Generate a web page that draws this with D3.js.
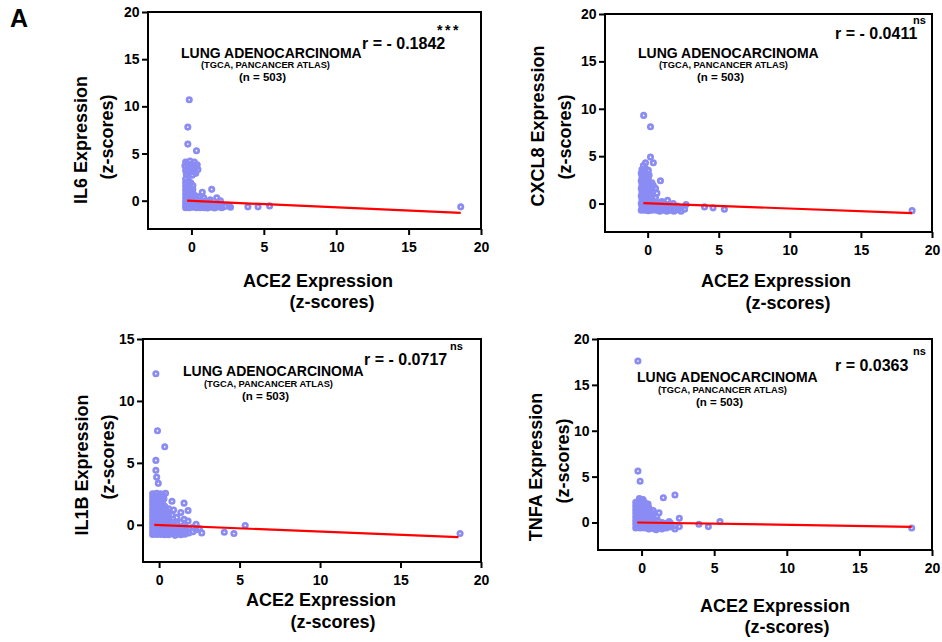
<!DOCTYPE html>
<html>
<head>
<meta charset="utf-8">
<script src="https://cdn.jsdelivr.net/npm/d3@7"></script>
<style>
body { margin: 0; background: #fff; }
svg { font-family: "Liberation Sans", Arial, sans-serif; font-weight: bold; }
</style>
</head>
<body>
<svg id="chart" width="942" height="642"></svg>
<script>
// ---- values ----
const genes = ["IL6", "CXCL8", "IL1B", "TNFA"];
const rLabels = ["r = - 0.1842", "r = - 0.0411", "r = - 0.0717", "r = 0.0363"];
const sigLabels = ["***", "ns", "ns", "ns"];
const xTicks = [0, 5, 10, 15, 20];
const yTicks20 = [0, 5, 10, 15, 20];
const yTicks15 = [0, 5, 10, 15];

// regression line, start and end on the ACE2 axis
const fitX = [-0.3, 18.6];
const il6Fit = [0, -1.3];
const cxcl8Fit = [0.05, -1.0];
const il1bFit = [0, -1.0];
const tnfaFit = [0, -0.47];

// [ACE2 z-score, gene z-score]
const il6Points = [
  [-0.15,10.7],[-0.25,7.8],[-0.25,6.0],[0.35,5.3],[0.75,0.9],[1.4,1.2],[0.85,0.3],[1.75,0.3],
  [3.9,-0.65],[4.6,-0.65],[5.4,-0.55],[18.6,-0.65],
  [-0.4,4.1],[-0.1,4.2],[0.2,4.1],[0.4,3.8],[-0.45,3.7],[-0.15,3.6],[0.15,3.5],[0.45,3.3],
  [-0.4,3.2],[-0.1,3.0],[0.2,3.1],[-0.35,2.8],[0.05,2.7],[0.3,2.9],
  [-0.28,3.9],[0.05,3.85],[-0.28,3.4],[0.02,3.3],[0.3,3.55],[-0.22,3.0],
  [-0.4,2.3],[-0.2,2.1],[-0.4,1.9],[-0.15,1.7],[-0.4,1.5],[-0.1,1.4],[0.1,1.6],[-0.4,1.1],
  [-0.15,1.0],[0.1,1.2],[-0.4,0.7],[-0.15,0.7],[0.1,0.8],[0.3,0.5],[-0.4,0.3],[-0.15,0.35],
  [0.1,0.3],[-0.4,-0.1],[-0.15,0.0],[0.1,-0.05],[-0.4,-0.45],[-0.15,-0.4],[0.1,-0.4],
  [-0.4,-0.75],[-0.15,-0.75],[0.1,-0.7],
  [-0.28,-0.58],[-0.03,-0.58],[0.22,-0.58],[-0.28,-0.25],[-0.03,-0.25],[0.22,-0.25],[-0.28,0.15],
  [-0.03,0.15],[0.22,0.1],[-0.28,0.5],[-0.03,0.5],[0.2,0.55],[-0.28,0.9],[-0.03,0.9],[-0.28,1.25],
  [-0.03,1.25],[-0.28,1.6],[-0.3,1.95],[-0.05,1.9],
  [0.35,0.2],[0.55,0.4],[0.5,-0.1],[0.75,0.0],[0.35,-0.45],[0.6,-0.5],[0.85,-0.4],[0.35,-0.75],
  [0.6,-0.75],[0.85,-0.75],[1.1,-0.1],[1.1,-0.55],[1.1,-0.78],[1.35,-0.3],[1.35,-0.7],[1.6,-0.5],
  [1.6,-0.78],[1.85,-0.25],[1.85,-0.65],[2.1,-0.45],[2.1,-0.75],[2.35,-0.6],[2.6,-0.5],[2.7,-0.7],
  [1.3,0.1],[2.0,0.0],
  [0.48,-0.6],[0.72,-0.6],[0.98,-0.6],[1.22,-0.5],[1.48,-0.6],[0.72,-0.25],[0.98,-0.3],[1.22,-0.15],
  [1.72,-0.6],[1.98,-0.6],[0.48,0.1]
];

const cxcl8Points = [
  [-0.28,9.3],[0.2,8.1],[0.2,4.9],[-0.15,4.3],[0.4,4.3],[0.9,2.4],[0.65,1.1],[1.4,0.35],
  [2.7,-0.1],[4.0,-0.35],[4.6,-0.45],[5.4,-0.6],[18.6,-0.75],
  [-0.3,4.0],[-0.4,3.6],[-0.15,3.7],[-0.45,3.2],[-0.2,3.3],[0.05,3.5],[-0.4,2.8],[-0.15,2.9],
  [0.1,3.0],[-0.45,2.4],[-0.2,2.5],[0.05,2.5],[0.3,2.2],[-0.4,2.0],[-0.15,2.0],[0.1,2.0],
  [0.4,1.9],[-0.45,1.6],[-0.2,1.6],[0.05,1.6],[0.3,1.5],[0.55,1.6],[-0.4,1.2],[-0.15,1.2],
  [0.1,1.2],[0.35,1.2],[-0.45,0.8],[-0.2,0.8],[0.05,0.8],[0.3,0.8],[0.55,0.6],[-0.4,0.4],
  [-0.15,0.4],[0.1,0.4],[0.35,0.35],[-0.45,0.0],[-0.2,0.0],[0.05,0.0],[0.3,0.0],[0.6,0.1],
  [-0.4,-0.35],[-0.15,-0.35],[0.1,-0.4],[0.35,-0.35],[-0.45,-0.7],[-0.2,-0.7],[0.05,-0.75],[0.3,-0.7],
  [-0.32,-0.52],[-0.07,-0.52],[0.2,-0.52],[-0.32,-0.17],[-0.07,-0.17],[0.2,-0.17],[-0.32,0.2],
  [-0.07,0.2],[0.2,0.2],[-0.32,0.6],[-0.07,0.6],[0.2,0.6],[-0.32,1.0],[-0.07,1.0],[0.2,1.0],
  [-0.32,1.4],[-0.07,1.4],[0.2,1.35],[-0.32,1.8],[-0.07,1.8],[0.22,1.75],[-0.32,2.2],[-0.07,2.2],
  [-0.32,2.6],[-0.05,2.7],[-0.3,3.05],[-0.05,3.1],[-0.28,3.45],
  [0.6,-0.3],[0.6,-0.7],[0.85,-0.1],[0.85,-0.5],[0.85,-0.8],[1.1,-0.3],[1.1,-0.7],[1.35,-0.1],
  [1.35,-0.5],[1.35,-0.8],[1.6,-0.3],[1.6,-0.7],[1.85,-0.45],[1.85,-0.8],[2.1,-0.25],[2.1,-0.65],
  [2.35,-0.5],[2.35,-0.8],[2.6,-0.6],[1.0,0.2],[1.8,0.0],
  [0.47,-0.5],[0.72,-0.5],[0.98,-0.55],[1.22,-0.5],[1.48,-0.6],[0.72,-0.15],[0.98,0.0],[1.22,-0.15],
  [1.72,-0.55],[1.98,-0.45]
];

const il1bPoints = [
  [-0.2,12.2],[-0.1,7.6],[0.35,6.3],[-0.2,5.2],[-0.2,4.4],[-0.15,3.85],[-0.05,3.35],[0.8,1.9],
  [1.55,1.75],[1.8,1.15],[0.8,0.8],[1.55,0.45],[2.3,0.05],[2.65,-0.65],[4.05,-0.6],[4.65,-0.7],
  [5.35,-0.05],[18.7,-0.7],
  [-0.4,2.5],[-0.15,2.55],[0.1,2.5],[0.4,2.55],[-0.4,2.2],[-0.15,2.2],[0.1,2.25],[0.3,2.1],
  [-0.4,1.9],[-0.15,1.9],[0.1,1.9],[-0.4,1.6],[-0.15,1.6],[0.1,1.6],[0.35,1.5],[-0.4,1.3],
  [-0.15,1.3],[0.1,1.3],[0.35,1.2],[0.6,1.3],[-0.4,1.0],[-0.15,1.0],[0.1,1.0],[0.35,0.9],
  [0.6,1.0],[-0.4,0.7],[-0.15,0.7],[0.1,0.7],[0.35,0.6],[0.6,0.6],[-0.4,0.4],[-0.15,0.4],
  [0.1,0.4],[0.35,0.3],[0.6,0.3],[-0.4,0.1],[-0.15,0.1],[0.1,0.1],[0.35,0.0],[0.6,0.0],
  [-0.4,-0.2],[-0.15,-0.2],[0.1,-0.2],[0.35,-0.3],[0.6,-0.3],[-0.4,-0.5],[-0.15,-0.5],[0.1,-0.5],
  [0.35,-0.55],[0.6,-0.6],[-0.4,-0.78],[-0.15,-0.78],[0.1,-0.78],[0.35,-0.8],[0.6,-0.8],
  [-0.28,-0.64],[-0.02,-0.64],[0.22,-0.66],[0.48,-0.68],[-0.28,-0.35],[-0.02,-0.35],[0.22,-0.38],
  [0.48,-0.42],[-0.28,-0.05],[-0.02,-0.05],[0.22,-0.08],[0.48,-0.12],[-0.28,0.25],[-0.02,0.25],
  [0.22,0.22],[0.48,0.18],[-0.28,0.55],[-0.02,0.55],[0.22,0.52],[0.48,0.46],[-0.28,0.85],
  [-0.02,0.85],[0.22,0.82],[0.48,0.78],[-0.28,1.15],[-0.02,1.15],[0.22,1.12],[0.48,1.1],
  [-0.28,1.45],[-0.02,1.45],[0.22,1.42],[-0.28,1.75],[-0.02,1.75],[0.22,1.72],[-0.28,2.05],
  [-0.02,2.05],[0.22,2.02],[-0.28,2.35],[-0.02,2.35],[0.25,2.38],
  [0.85,0.2],[0.85,-0.1],[0.85,-0.4],[0.85,-0.7],[1.1,0.6],[1.1,0.1],[1.1,-0.3],[1.1,-0.65],
  [1.35,1.0],[1.35,0.2],[1.35,-0.2],[1.35,-0.55],[1.35,-0.8],[1.6,-0.1],[1.6,-0.45],[1.6,-0.75],
  [1.85,-0.3],[1.85,-0.65],[2.1,-0.2],[2.1,-0.55],[2.3,-0.4],[2.5,-0.3],[0.9,1.2],[1.0,-0.85],
  [1.8,0.3],
  [0.72,-0.55],[0.98,-0.5],[1.22,-0.45],[0.72,-0.25],[0.98,-0.1],[1.22,-0.7],[1.48,-0.6],[1.48,-0.3],
  [0.72,0.05],[1.72,-0.5]
];

const tnfaPoints = [
  [-0.25,17.6],[-0.25,5.6],[-0.1,4.5],[1.5,2.7],[2.3,3.0],[1.2,1.05],[2.6,0.45],[2.6,-0.45],
  [3.95,-0.2],[4.6,-0.45],[5.4,0.1],[18.6,-0.6],
  [-0.15,2.6],[0.1,2.5],[-0.4,2.2],[-0.1,2.2],[0.2,2.2],[0.45,2.0],[-0.4,1.8],[-0.1,1.8],
  [0.2,1.8],[0.5,1.6],[-0.4,1.4],[-0.1,1.4],[0.2,1.4],[0.5,1.2],[0.8,1.3],[-0.4,1.0],
  [-0.1,1.0],[0.2,1.0],[0.5,0.8],[0.8,0.9],[-0.4,0.6],[-0.1,0.6],[0.2,0.6],[0.5,0.4],
  [0.8,0.5],[1.05,0.6],[-0.4,0.2],[-0.1,0.2],[0.2,0.2],[0.5,0.0],[0.8,0.1],[1.1,0.2],
  [-0.4,-0.2],[-0.1,-0.2],[0.2,-0.2],[0.5,-0.35],[0.8,-0.3],[-0.4,-0.6],[-0.1,-0.6],[0.2,-0.6],
  [0.5,-0.7],[0.8,-0.65],[1.1,-0.2],[1.1,-0.55],[1.4,0.0],[1.4,-0.4],[1.4,-0.7],[1.7,-0.2],
  [1.7,-0.6],[2.0,-0.1],[2.0,-0.5],[2.3,-0.35],[2.3,-0.7],[1.9,0.1],[1.0,-0.8],
  [-0.25,-0.4],[0.05,-0.4],[0.35,-0.45],[0.65,-0.5],[-0.25,0.0],[0.05,0.0],[0.35,-0.05],[0.65,-0.1],
  [-0.25,0.4],[0.05,0.4],[0.35,0.35],[0.65,0.3],[-0.25,0.8],[0.05,0.8],[0.35,0.75],[0.65,0.7],
  [-0.25,1.2],[0.05,1.2],[0.35,1.15],[0.65,1.05],[-0.25,1.6],[0.05,1.6],[0.35,1.55],[-0.25,2.0],
  [0.05,2.0],[0.3,1.95],[-0.05,2.4],
  [0.95,-0.45],[1.25,-0.55],[1.25,-0.2],[1.55,-0.45],[1.85,-0.4],[0.95,-0.05],[1.55,-0.1]
];

// ---- layout (pixel positions of each panel) ----
const panels = [
  { gene: genes[0], points: il6Points, fit: il6Fit, r: rLabels[0], sig: sigLabels[0],
    xDomain: [-3, 20], yDomain: [-3, 20], yTicks: yTicks20,
    box: {left: 148, top: 12, right: 481, bottom: 229},
    yt1: [81, 140], yt2: [108, 137], xt1: [318, 286.5], xt2: [332, 308],
    lung: [181, 57.7], tgca: [201, 67.5], n: [239, 80.5], rPos: [362, 49], sigPos: [437, 34.5], sigSize: 14, sigSpace: 2.5 },
  { gene: genes[1], points: cxcl8Points, fit: cxcl8Fit, r: rLabels[1], sig: sigLabels[1],
    xDomain: [-3, 20], yDomain: [-3, 20], yTicks: yTicks20,
    box: {left: 605, top: 14, right: 932, bottom: 232},
    yt1: [537.5, 126], yt2: [565.5, 137], xt1: [776, 286.5], xt2: [788, 309],
    lung: [638, 57.7], tgca: [659, 67.5], n: [697, 80.5], rPos: [835, 39.3], sigPos: [913, 24], sigSize: 11, sigSpace: 0 },
  { gene: genes[2], points: il1bPoints, fit: il1bFit, r: rLabels[2], sig: sigLabels[2],
    xDomain: [-1, 20], yDomain: [-3, 15], yTicks: yTicks15,
    box: {left: 143, top: 339, right: 481, bottom: 562},
    yt1: [82, 465], yt2: [109, 457], xt1: [321, 605.5], xt2: [333, 628],
    lung: [183, 376], tgca: [204, 386.5], n: [242, 400], rPos: [364, 365], sigPos: [450, 350], sigSize: 11, sigSpace: 0 },
  { gene: genes[3], points: tnfaPoints, fit: tnfaFit, r: rLabels[3], sig: sigLabels[3],
    xDomain: [-3, 20], yDomain: [-3, 20], yTicks: yTicks20,
    box: {left: 598, top: 339, right: 932, bottom: 550},
    yt1: [535.5, 467], yt2: [564, 461], xt1: [775, 611.5], xt2: [787, 633],
    lung: [637, 382], tgca: [658, 392.5], n: [696, 406], rPos: [835, 371], sigPos: [913, 355], sigSize: 11, sigSpace: 0 }
];

const svg = d3.select('#chart');

svg.append('text')
    .attr('x', 10)
    .attr('y', 27)
    .attr('font-size', 25)
    .text('A');

panels.forEach(drawPanel);

function drawPanel(p) {
    const xScale = d3.scaleLinear()
                .domain(p.xDomain)
                .range([p.box.left, p.box.right]);
    const yScale = d3.scaleLinear()
                .domain(p.yDomain)
                .range([p.box.bottom, p.box.top]);

    const g = svg.append('g');

    g.selectAll('circle')
        .data(p.points)
        .enter()
        .append('circle')
        .attr('cx', d => xScale(d[0]))
        .attr('cy', d => yScale(d[1]))
        .attr('r', 2.2)
        .attr('fill', 'none')
        .attr('stroke', '#8a8cf4')
        .attr('stroke-width', 2.7);

    const line = d3.line()
                .x(d => xScale(d[0]))
                .y(d => yScale(d[1]));

    g.append('path')
        .datum(fitX.map((v, i) => [v, p.fit[i]]))
        .attr('fill', 'none')
        .attr('stroke', '#ff0000')
        .attr('stroke-width', 2.2)
        .attr('d', line);

    // frame round the plot
    g.append('rect')
        .attr('x', p.box.left)
        .attr('y', p.box.top)
        .attr('width', p.box.right - p.box.left)
        .attr('height', p.box.bottom - p.box.top)
        .attr('fill', 'none')
        .attr('stroke', 'black')
        .attr('stroke-width', 2);

    g.append('g')
        .attr('transform', `translate(0, ${p.box.bottom})`)
        .call(d3.axisBottom(xScale).tickValues(xTicks).tickSize(6).tickPadding(7))
        .call(axisStyle);

    g.append('g')
        .attr('transform', `translate(${p.box.left}, 0)`)
        .call(d3.axisLeft(yScale).tickValues(p.yTicks).tickSize(6).tickPadding(2.5))
        .call(axisStyle);

    // axis titles
    g.append('text')
        .attr('transform', `translate(${p.yt1[0]}, ${p.yt1[1]}) rotate(-90)`)
        .attr('dy', '0.36em')
        .attr('text-anchor', 'middle')
        .attr('font-size', 18)
        .text(p.gene + ' Expression');
    g.append('text')
        .attr('transform', `translate(${p.yt2[0]}, ${p.yt2[1]}) rotate(-90)`)
        .attr('dy', '0.28em')
        .attr('text-anchor', 'middle')
        .attr('font-size', 18)
        .text('(z-scores)');
    g.append('text')
        .attr('x', p.xt1[0])
        .attr('y', p.xt1[1])
        .attr('text-anchor', 'middle')
        .attr('font-size', 18)
        .text('ACE2 Expression');
    g.append('text')
        .attr('x', p.xt2[0])
        .attr('y', p.xt2[1])
        .attr('text-anchor', 'middle')
        .attr('font-size', 18)
        .text('(z-scores)');

    // annotation
    g.append('text').attr('x', p.lung[0]).attr('y', p.lung[1])
        .attr('font-size', 14).text('LUNG ADENOCARCINOMA');
    g.append('text').attr('x', p.tgca[0]).attr('y', p.tgca[1])
        .attr('font-size', 9.3).text('(TGCA, PANCANCER ATLAS)');
    g.append('text').attr('x', p.n[0]).attr('y', p.n[1])
        .attr('font-size', 11.5).text('(n = 503)');
    g.append('text').attr('x', p.rPos[0]).attr('y', p.rPos[1])
        .attr('font-size', 16).text(p.r);
    g.append('text').attr('x', p.sigPos[0]).attr('y', p.sigPos[1])
        .attr('font-size', p.sigSize)
        .attr('letter-spacing', p.sigSpace)
        .text(p.sig);
}

function axisStyle(axis) {
    axis.select('.domain').remove();
    axis.selectAll('.tick line')
        .attr('stroke', 'black')
        .attr('stroke-width', 2);
    axis.selectAll('.tick text')
        .attr('fill', 'black')
        .attr('font-size', 14)
        .attr('font-weight', 'bold')
        .attr('font-family', '"Liberation Sans", Arial, sans-serif');
}
</script>
</body>
</html>
